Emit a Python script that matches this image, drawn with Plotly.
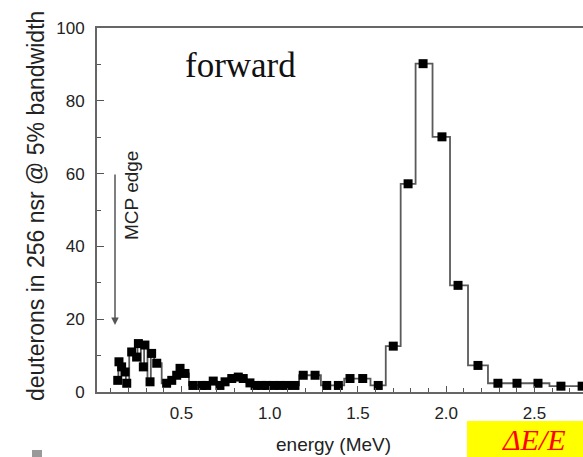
import plotly.graph_objects as go

# Energy (MeV) and counts
energy = [0.139, 0.146, 0.161, 0.180, 0.190, 0.218, 0.246, 0.256, 0.284, 0.293,
          0.322, 0.331, 0.360, 0.416, 0.445, 0.473, 0.492, 0.520, 0.565, 0.615,
          0.643, 0.680, 0.718, 0.747, 0.785, 0.822, 0.850, 0.888, 0.917, 0.955,
          0.983, 1.020, 1.058, 1.096, 1.143, 1.190, 1.257, 1.323, 1.389, 1.455,
          1.527, 1.615, 1.700, 1.784, 1.869, 1.976, 2.067, 2.180, 2.293, 2.401,
          2.520, 2.650, 2.770]
counts = [3.2, 8.3, 6.9, 5.5, 2.4, 11.0, 9.6, 13.3, 6.9, 12.9,
          2.8, 10.6, 7.9, 2.4, 3.2, 4.6, 6.5, 5.1, 1.8, 1.8,
          1.8, 3.0, 1.8, 2.8, 3.7, 4.1, 3.7, 2.5, 1.8, 1.8,
          1.8, 1.8, 1.8, 1.8, 1.8, 4.6, 4.6, 1.8, 1.8, 3.7,
          3.7, 1.8, 12.6, 57.2, 90.2, 70.1, 29.3, 7.3, 2.4, 2.4,
          2.4, 1.6, 1.6]

x_ticks = [0.5, 1.0, 1.5, 2.0, 2.5]
y_ticks = [0, 20, 40, 60, 80, 100]

W, H = 583, 457
ML, MR, MT, MB = 97, 0, 28, 65
PW, PH = W - ML - MR, H - MT - MB

def px(xp):
    return (xp - ML) / PW

def py(yp):
    return (H - MB - yp) / PH

fig = go.Figure()
fig.add_trace(go.Scatter(
    x=energy, y=counts, mode="lines+markers",
    line=dict(shape="hvh", color="#5a5a5a", width=1.8),
    marker=dict(symbol="square", size=9, color="black"),
    showlegend=False,
))

axis_font = dict(family="Liberation Sans, Arial, sans-serif", size=17, color="#222222")

fig.update_xaxes(
    range=[0.0215, 2.775], tickvals=x_ticks, tickformat=".1f",
    ticks="inside", ticklen=6, tickwidth=1.2, tickcolor="#555555",
    minor=dict(dtick=0.1, tick0=0, ticks="inside", ticklen=4, tickwidth=1, tickcolor="#555555"),
    showline=True, linecolor="#666666", linewidth=2, mirror=True,
    showgrid=False, zeroline=False, tickfont=axis_font, ticklabelstandoff=5,
)
fig.update_yaxes(
    range=[0, 100], tickvals=y_ticks,
    ticks="inside", ticklen=7, tickwidth=1.2, tickcolor="#555555",
    minor=dict(dtick=10, tick0=0, ticks="inside", ticklen=4, tickwidth=1, tickcolor="#555555"),
    showline=True, linecolor="#666666", linewidth=2, mirror=False,
    showgrid=False, zeroline=False, tickfont=axis_font, ticklabelstandoff=7,
)

annotations = [
    dict(text="deuterons in 256 nsr @ 5% bandwidth", xref="paper", yref="paper",
         x=px(36), y=py(206), xanchor="center", yanchor="middle", textangle=-90,
         showarrow=False, font=dict(family="Liberation Sans, Arial, sans-serif", size=23, color="#222222")),
    dict(text="energy (MeV)", xref="paper", yref="paper",
         x=px(333), y=py(432), xanchor="center", yanchor="top",
         showarrow=False, font=dict(family="Liberation Sans, Arial, sans-serif", size=19, color="#222222")),
    dict(text="forward", xref="paper", yref="paper",
         x=px(240), y=py(65), xanchor="center", yanchor="middle",
         showarrow=False, font=dict(family="Liberation Serif, Times New Roman, serif", size=35, color="#111111")),
    dict(text="MCP edge", xref="paper", yref="paper",
         x=px(131), y=py(196), xanchor="center", yanchor="middle", textangle=-90,
         showarrow=False, font=dict(family="Liberation Sans, Arial, sans-serif", size=19, color="#222222")),
    dict(text="", x=0.1235, y=18.4, xref="x", yref="y", showarrow=True,
         ax=0, ay=-152, arrowhead=2, arrowsize=1, arrowwidth=1.5, arrowcolor="#555555"),
    dict(text="<i>ΔE/E</i>", xref="paper", yref="paper",
         x=px(500), y=py(421), xanchor="left", yanchor="top",
         showarrow=False, font=dict(family="Liberation Serif, Times New Roman, serif", size=30, color="#ff0000")),
]

shapes = [
    dict(type="rect", xref="paper", yref="paper", x0=px(467), x1=1.05, y0=py(470), y1=py(421),
         fillcolor="#ffff00", line=dict(width=0), layer="below"),
    dict(type="rect", xref="paper", yref="paper", x0=px(32), x1=px(42), y0=py(460), y1=py(450),
         fillcolor="#999999", line=dict(width=0)),
]

fig.update_layout(
    width=W, height=H, margin=dict(l=ML, r=MR, t=MT, b=MB),
    paper_bgcolor="white", plot_bgcolor="white",
    annotations=annotations, shapes=shapes,
)

fig.write_html("out.html")
